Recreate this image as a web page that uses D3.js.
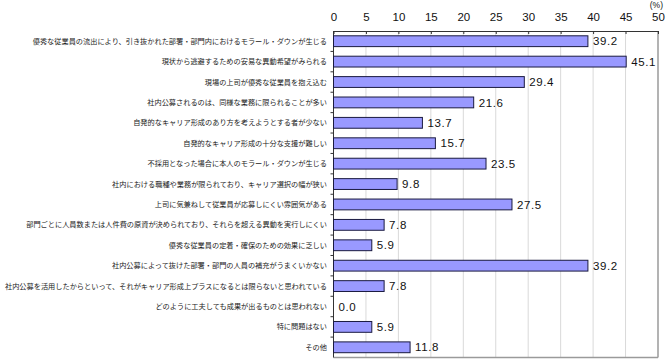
<!DOCTYPE html>
<html><head><meta charset="utf-8">
<script src="https://cdn.jsdelivr.net/npm/d3@7"></script>
<style>body{margin:0;background:#fff;}svg{display:block;}</style>
</head><body><svg id="c" width="666" height="363"></svg>
<script>
const categories = [
"優秀な従業員の流出により、引き抜かれた部署・部門内におけるモラール・ダウンが生じる",
"現状から逃避するための安易な異動希望がみられる",
"現場の上司が優秀な従業員を抱え込む",
"社内公募されるのは、同様な業務に限られることが多い",
"自発的なキャリア形成のあり方を考えようとする者が少ない",
"自発的なキャリア形成の十分な支援が難しい",
"不採用となった場合に本人のモラール・ダウンが生じる",
"社内における職種や業務が限られており、キャリア選択の幅が狭い",
"上司に気兼ねして従業員が応募しにくい雰囲気がある",
"部門ごとに人員数または人件費の原資が決められており、それらを超える異動を実行しにくい",
"優秀な従業員の定着・確保のための効果に乏しい",
"社内公募によって抜けた部署・部門の人員の補充がうまくいかない",
"社内公募を活用したからといって、それがキャリア形成上プラスになるとは限らないと思われている",
"どのように工夫しても成果が出るものとは思われない",
"特に問題はない",
"その他"];
const values = [39.2,45.1,29.4,21.6,13.7,15.7,23.5,9.8,27.5,7.8,5.9,39.2,7.8,0.0,5.9,11.8];
const ticks = [0,5,10,15,20,25,30,35,40,45,50];
const unitLabel = "(%)";

const svg = d3.select("#c");
const L = 333.5, R = 658, T = 31, B = 357.5;
const x = d3.scaleLinear().domain([0,50]).range([L,R]);
const y = d3.scaleBand().domain(categories).range([T,B]).paddingInner(0.47).paddingOuter(0.235);
const band = d3.scaleBand().domain(categories).range([T,B]);

// gridlines
svg.append("g").selectAll("line").data(ticks.slice(1,-1)).join("line")
  .attr("x1",d=>x(d)).attr("x2",d=>x(d)).attr("y1",T).attr("y2",B)
  .attr("stroke","#d9d9d9").attr("stroke-width",1);

// frame
svg.append("line").attr("x1",R).attr("x2",R).attr("y1",T).attr("y2",B).attr("stroke","#9a9a9a").attr("stroke-width",1.5);
svg.append("line").attr("x1",L).attr("x2",R).attr("y1",B).attr("y2",B).attr("stroke","#9a9a9a").attr("stroke-width",1.5);

// top axis
const ax = svg.append("g").attr("transform",`translate(0,${T})`)
  .call(d3.axisTop(x).tickValues(ticks).tickSize(0).tickPadding(10).tickFormat(d3.format("d")));
ax.select(".domain").attr("stroke","#333");
ax.selectAll("text").attr("font-family","'Liberation Sans',Arial,sans-serif").attr("font-size","11.5px").attr("fill","#111").attr("dy","0");
ax.selectAll(".tick").append("line").attr("y1",0).attr("y2",3).attr("stroke","#333");

// left axis
svg.append("line").attr("x1",L).attr("x2",L).attr("y1",T).attr("y2",B).attr("stroke","#333");
svg.append("g").selectAll("line").data(categories.slice(1)).join("line")
  .attr("x1",L-3).attr("x2",L).attr("y1",d=>band(d)).attr("y2",d=>band(d)).attr("stroke","#333");

// bars
svg.append("g").selectAll("rect").data(values).join("rect")
  .attr("x",L).attr("y",(d,i)=>y(categories[i]))
  .attr("width",d=>x(d)-L).attr("height",y.bandwidth())
  .attr("fill",d=>d>0?"#9999ff":"none").attr("stroke",d=>d>0?"#1a1a40":"none").attr("stroke-width",1);

// value labels
svg.append("g").selectAll("text").data(values).join("text")
  .attr("x",d=>x(d)+5).attr("y",(d,i)=>y(categories[i])+y.bandwidth()/2)
  .attr("dy","0.36em").attr("font-family","'Liberation Sans',Arial,sans-serif")
  .attr("font-size","11.5px").attr("letter-spacing","0.6px").attr("fill","#111")
  .text(d=>d.toFixed(1));

// category labels
svg.append("g").selectAll("text").data(categories).join("text")
  .attr("x",327).attr("y",d=>band(d)+band.bandwidth()/2)
  .attr("dy","0.36em").attr("text-anchor","end")
  .attr("font-family","'Noto Sans CJK JP',sans-serif").attr("font-size","7.2px").attr("fill","#222")
  .text(d=>d);

// unit
svg.append("text").attr("x",663).attr("y",8).attr("text-anchor","end")
  .attr("font-family","'Liberation Sans',Arial,sans-serif").attr("font-size","8.5px").attr("fill","#111").text(unitLabel);
</script></body></html>
